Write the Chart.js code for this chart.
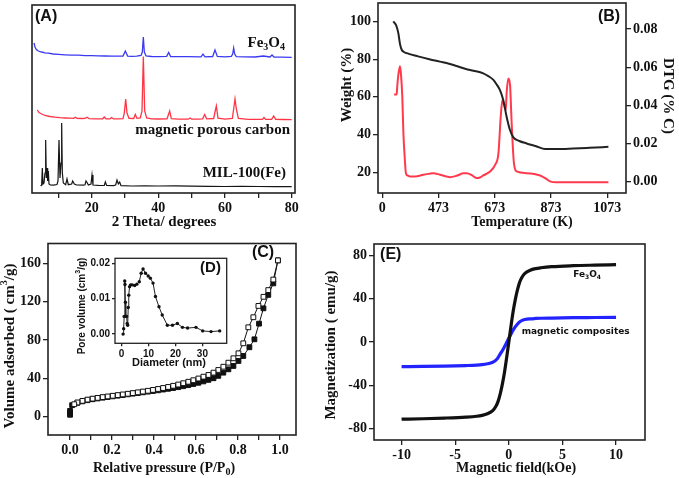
<!DOCTYPE html>
<html>
<head>
<meta charset="utf-8">
<title>Fe3O4 / magnetic porous carbon</title>
<script src="https://cdn.jsdelivr.net/npm/chart.js@4.4.1/dist/chart.umd.min.js"></script>
<style>
  html, body { margin: 0; padding: 0; background: #fff; }
  #page { position: relative; width: 679px; height: 478px; overflow: hidden; background: #fff; }
  #page canvas { position: absolute; }
</style>
</head>
<body>
<div id="page">
  <canvas id="chartA" width="340" height="232" style="left:0;top:0"></canvas>
  <canvas id="chartB" width="349" height="232" style="left:330px;top:0"></canvas>
  <canvas id="chartC" width="340" height="246" style="left:0;top:232px"></canvas>
  <canvas id="chartE" width="361" height="246" style="left:318px;top:232px"></canvas>
  <canvas id="chartD" width="160" height="120" style="left:75px;top:250px"></canvas>
</div>
<script>
(function () {
    "use strict";

    // (A) XRD, intensity is arbitrary (offset traces)
    const feTheta = [2.7, 3.0, 3.4, 4.0, 5.0, 6.0, 7.0, 8.5, 10, 12,
        14, 16, 18, 20, 22, 24, 26, 28, 29.4, 30.1,
        30.8, 32, 33.5, 34.8, 35.2, 35.5, 35.8, 36.3, 38, 40,
        42.5, 43.1, 43.7, 46, 49, 52.8, 53.4, 54.0, 56.3, 57.0,
        57.7, 60, 61.9, 62.3, 62.6, 62.9, 63.4, 66, 69, 71.5,
        73.5, 74.1, 74.7, 77, 80];
    const feInt = [150, 146, 143.5, 142, 141, 140.2, 139.8, 139, 138.6, 138.2,
        137.9, 137.8, 137.4, 137.3, 137.1, 137, 136.9, 136.8, 137, 142,
        136.9, 136.6, 136.8, 137.5, 141, 156, 141, 137, 136.5, 136.4,
        136.6, 140.5, 136.5, 136.3, 136.4, 136.2, 139, 136.2, 136.5, 143,
        136.6, 136.2, 136.6, 139, 145, 139, 136.4, 136.1, 136, 137,
        136, 138, 136, 135.8, 135.7];
    const mpcTheta = [3.7, 4.2, 5.0, 6.0, 7.5, 9, 10.5, 12, 13.5, 14.6,
        15.1, 15.6, 17, 18.0, 18.6, 19.2, 21, 23.3, 23.8, 24.3,
        25.5, 26.0, 26.5, 28, 29.4, 29.8, 30.2, 30.6, 31.2, 32.6,
        33.1, 33.6, 34.6, 35.1, 35.5, 35.9, 36.5, 38, 40, 42.6,
        43.0, 43.4, 43.9, 46, 49.0, 49.5, 50.0, 52, 53.3, 53.9,
        54.5, 56.6, 57.0, 57.4, 57.9, 60, 62.2, 62.6, 63.0, 63.4,
        64.0, 67, 71.2, 71.7, 72.2, 74.0, 74.6, 75.2, 77.5, 80];
    const mpcInt = [83, 80.5, 79, 77.5, 76.5, 75.8, 75.3, 75, 74.8, 74.7,
        75.8, 74.7, 74.5, 74.6, 75.8, 74.4, 74.2, 74.2, 76, 74.2,
        74.2, 75.5, 74.1, 74.1, 74.4, 80, 94, 80, 74.6, 74.5,
        78.5, 74.6, 75, 82, 136.5, 82, 75, 74.1, 74, 74.2,
        78, 82, 74.3, 73.8, 73.8, 75, 73.8, 73.8, 74.2, 78.5,
        74.2, 74.5, 81, 87, 74.8, 73.9, 74.5, 84, 94, 84,
        74.5, 73.7, 73.6, 75.5, 73.6, 73.6, 77, 73.6, 73.5, 73.4];
    const milTheta = [4.7, 5.0, 5.2, 5.4, 5.7, 6.0, 6.2, 6.4, 6.6, 6.8,
        7.0, 7.2, 7.6, 8.5, 9.6, 9.9, 10.2, 10.5, 10.8, 11.0,
        11.2, 11.5, 12.2, 12.6, 13.0, 14.0, 14.3, 14.8, 15.5, 17.5,
        18.0, 18.3, 18.7, 19.0, 19.8, 20.1, 20.4, 22, 23.8, 24.1,
        24.5, 26.5, 27.2, 27.6, 28.0, 28.4, 28.8, 32, 36, 40,
        45, 50, 55, 60, 65, 70, 75, 80];
    const milInt = [7, 8, 25, 9, 10, 20, 53, 15, 25, 12,
        22, 9, 8, 7.8, 8.5, 12, 53, 15, 30, 70,
        20, 10, 8.3, 14, 8.3, 9, 12, 9, 8, 7.8,
        8.2, 12, 10, 8, 9, 18, 8, 7.6, 7.5, 11,
        7.5, 7.4, 8, 13, 9, 11, 7.4, 7, 7.2, 7,
        7.1, 6.8, 6.7, 6.5, 6.6, 6.5, 6.4, 6.3];
    const aTicks = [10, 20, 30, 40, 50, 60, 70, 80];

    // (B) TG / DTG
    const tgT = [312, 322, 330, 336, 342, 350, 360, 400, 440, 478,
        510, 537, 570, 597, 632, 650, 668, 680, 691, 703,
        715, 727, 739, 760, 786, 820, 852, 893, 952, 1010, 1077];
    const tgW = [100, 98, 93.8, 88, 85, 83.8, 83.2, 81.5, 80, 78.7,
        77.6, 76.4, 74.8, 73.9, 72.5, 71, 69, 66.5, 63.7, 58.4,
        49.5, 42.4, 38.5, 36.6, 35.3, 33.8, 32.3, 32.3, 32.6, 33, 33.5];
    const dtgT = [315, 324, 326, 330, 336, 339, 344, 348, 353, 357,
        364, 371, 390, 419, 440, 454, 478, 500, 514, 530,
        549, 560, 573, 591, 609, 620, 632, 656, 674, 686,
        694, 700, 707, 712, 715, 721, 727, 733, 741, 751,
        786, 834, 852, 869, 893, 950, 1010, 1077];
    const dtgV = [0.0458, 0.0458, 0.0498, 0.056, 0.0605, 0.057, 0.045, 0.0254, 0.012, 0.0045,
        0.0032, 0.0028, 0.0028, 0.0037, 0.0042, 0.0045, 0.0037, 0.0028, 0.0024, 0.0028,
        0.0038, 0.0045, 0.0045, 0.0035, 0.0019, 0.0022, 0.0033, 0.0054, 0.0089, 0.015,
        0.034, 0.0428, 0.040, 0.0376, 0.0463, 0.0541, 0.051, 0.0306, 0.0098, 0.0054,
        0.0045, 0.0033, 0.0019, 0.0002, -0.0003, -0.0003, -0.0003, -0.0003];
    const bTicks = [273, 473, 673, 873, 1073];
    const bTickLabels = ["0", "473", "673", "873", "1073"];
    const bWeightTicks = [20, 40, 60, 80, 100];
    const bDtgTicks = [0, 0.02, 0.04, 0.06, 0.08];

    // (C) N2 sorption isotherm
    const adsP = [0, 0, 0, 0.01, 0.035, 0.059, 0.083, 0.107, 0.131, 0.155,
        0.179, 0.203, 0.227, 0.251, 0.275, 0.299, 0.323, 0.347, 0.371, 0.395,
        0.419, 0.443, 0.467, 0.491, 0.515, 0.539, 0.563, 0.587, 0.611, 0.635,
        0.659, 0.683, 0.706, 0.73, 0.754, 0.778, 0.802, 0.825, 0.854, 0.878,
        0.9, 0.921, 0.944, 0.968, 0.99];
    const adsV = [2, 4, 6, 12, 14.5, 16, 17.2, 18.2, 19, 19.8,
        20.5, 21.2, 21.9, 22.6, 23.3, 24, 24.7, 25.4, 26.1, 26.8,
        27.5, 28.3, 29.1, 29.9, 30.8, 31.8, 32.9, 34.1, 35.4, 36.8,
        38.4, 40.1, 42.6, 45.9, 49.4, 52.9, 58.1, 63.3, 72.4, 80.7,
        97, 113, 127, 139, 163];
    const desP = [0.99, 0.968, 0.944, 0.921, 0.897, 0.873, 0.849, 0.825, 0.802, 0.778,
        0.754, 0.73, 0.706, 0.683, 0.659, 0.635, 0.611, 0.587, 0.563, 0.539,
        0.515, 0.491, 0.467, 0.443, 0.419, 0.395, 0.371, 0.347, 0.323, 0.299,
        0.275, 0.251, 0.227, 0.203, 0.179, 0.155, 0.131, 0.107, 0.083, 0.059,
        0.035, 0.02];
    const desV = [163, 143, 132, 125, 115.5, 103.7, 93.2, 76.5, 66.1, 60.9,
        56.3, 52.1, 48.7, 45.9, 43.5, 41.7, 39.8, 38, 36.4, 34.9,
        33.5, 32.2, 31, 29.9, 28.9, 27.9, 27, 26.2, 25.4, 24.6,
        23.9, 23.2, 22.5, 21.8, 21.1, 20.4, 19.6, 18.8, 17.8, 16.5,
        14.8, 13];
    const cTicksX = [0, 0.1, 0.2, 0.3, 0.4, 0.5, 0.6, 0.7, 0.8, 0.9, 1.0];
    const cTicksY = [0, 40, 80, 120, 160];

    // (D) pore size distribution (inset)
    const poreD = [0.6, 0.8, 1.0, 1.2, 1.3, 1.45, 1.6, 1.9, 2.1, 2.3,
        2.5, 2.7, 3.0, 3.4, 4.0, 4.9, 5.7, 6.6, 7.3, 8.0,
        8.9, 9.9, 10.7, 11.7, 12.6, 13.9, 15.1, 17.0, 18.9, 20.7,
        22.6, 24.5, 27.6, 30.1, 33.2, 36.4];
    const poreV = [0.000, 0.0015, 0.0050, 0.0150, 0.0140, 0.0090, 0.0050, 0.0050, 0.0030, 0.0025,
        0.0075, 0.011, 0.0134, 0.0139, 0.0139, 0.0137, 0.0141, 0.0148, 0.0172, 0.0184,
        0.0172, 0.0164, 0.0158, 0.0144, 0.0106, 0.0077, 0.0054, 0.0025, 0.0025, 0.003,
        0.0019, 0.0017, 0.0019, 0.0009, 0.0007, 0.0009];
    const dTicksX = [0, 10, 20, 30];
    const dTicksY = [0, 0.01, 0.02];

    // (E) magnetization curves
    const fieldH = [-10, -8, -6, -4, -3, -2.5, -2, -1.5, -1.2, -1.0,
        -0.8, -0.6, -0.4, -0.2, 0, 0.2, 0.4, 0.6, 0.8, 1.0,
        1.2, 1.5, 2, 2.5, 3, 4, 6, 8, 10];
    const magFe3O4 = [-71.5, -71.1, -70.5, -69.6, -68.8, -68, -66.5, -63.5, -59.5, -55,
        -48, -39, -28, -14.5, 0, 14.5, 28, 39, 48, 55,
        59.5, 63.5, 66.5, 68, 68.8, 69.8, 70.7, 71.2, 71.6];
    const magComposite = [-22.8, -22.6, -22.3, -21.8, -21.4, -21, -20.2, -18.7, -16.8, -14.5,
        -11, -8, -4.5, -0.5, 3.4, 7.2, 11, 14, 16.5, 18.5,
        19.8, 20.8, 21.5, 21.8, 22, 22.2, 22.5, 22.7, 22.9];
    const eTicksX = [-10, -5, 0, 5, 10];
    const eTicksY = [-80, -40, 0, 40, 80];

    const serif = "'Liberation Serif', 'Times New Roman', serif";
    const sans = "'Liberation Sans', Arial, sans-serif";
    const tickFont = { family: serif, weight: "bold", size: 14 };
    const smallFont = { family: sans, weight: "bold", size: 10 };
    const FE3O4 = [["Fe", ""], ["3", "sub"], ["O", ""], ["4", "sub"]];

    function pairs(xs, ys) {
        return xs.map(function (x, i) { return { x: x, y: ys[i] }; });
    }

    function fixBox(size) {
        return function (scale) {
            if (scale.isHorizontal()) scale.height = size; else scale.width = size;
            scale.paddingTop = 0; scale.paddingBottom = 0;
            scale.paddingLeft = 0; scale.paddingRight = 0;
        };
    }

    function axis(pos, min, max, values, label, box, font, tickLen) {
        return {
            type: "linear", position: pos, min: min, max: max, bounds: "data",
            afterBuildTicks: function (scale) {
                scale.ticks = values.map(function (v) { return { value: v }; });
            },
            afterFit: fixBox(box),
            ticks: { callback: label, font: font || tickFont, color: "#111", padding: 2, maxRotation: 0, autoSkip: false },
            grid: { drawOnChartArea: false, drawTicks: true, tickLength: tickLen || 5, color: "#222", lineWidth: 1.3 },
            border: { display: false }
        };
    }

    function drawText(ctx, it, px, py) {
        const segs = typeof it.text === "string" ? [[it.text, ""]] : it.text;
        const fontOf = function (kind) {
            return "bold " + (kind ? Math.round(it.size * 0.68) : it.size) + "px " + it.font;
        };
        let total = 0;
        segs.forEach(function (s) { ctx.font = fontOf(s[1]); total += ctx.measureText(s[0]).width; });
        ctx.save();
        ctx.translate(px, py);
        if (it.rot) ctx.rotate(it.rot * Math.PI / 180);
        let x = it.align === "right" ? -total : it.align === "left" ? 0 : -total / 2;
        ctx.textAlign = "left";
        ctx.textBaseline = "middle";
        ctx.fillStyle = it.color || "#111";
        segs.forEach(function (s) {
            ctx.font = fontOf(s[1]);
            const dy = s[1] === "sub" ? it.size * 0.3 : s[1] === "sup" ? -it.size * 0.35 : 0;
            ctx.fillText(s[0], x, dy);
            x += ctx.measureText(s[0]).width;
        });
        ctx.restore();
    }

    // frame box round the plot area + panel texts
    function notes(items, frameWidth) {
        return {
            id: "notes",
            afterDraw: function (chart) {
                const ctx = chart.ctx, a = chart.chartArea;
                ctx.save();
                ctx.strokeStyle = "#222";
                ctx.lineWidth = frameWidth;
                ctx.strokeRect(a.left, a.top, a.right - a.left, a.bottom - a.top);
                items.forEach(function (it) {
                    let px = it.px, py = it.py;
                    if (px === undefined) {
                        px = chart.scales[it.xs || "x"].getPixelForValue(it.x);
                        py = chart.scales[it.ys || "y"].getPixelForValue(it.y);
                    }
                    drawText(ctx, it, px, py);
                });
                ctx.restore();
            }
        };
    }

    function line(xs, ys, color, width, extra) {
        return Object.assign({
            data: pairs(xs, ys), borderColor: color, backgroundColor: color,
            borderWidth: width, pointRadius: 0, fill: false, tension: 0
        }, extra || {});
    }

    function build(id, datasets, scales, padding, items, frameWidth) {
        return new Chart(document.getElementById(id).getContext("2d"), {
            type: "line",
            data: { datasets: datasets },
            options: {
                responsive: false,
                animation: false,
                events: [],
                layout: { padding: padding },
                plugins: { legend: { display: false }, tooltip: { enabled: false } },
                scales: scales
            },
            plugins: [notes(items, frameWidth)]
        });
    }

    // A
    build("chartA", [
        line(feTheta, feInt, "#3a3af2", 1.3),
        line(mpcTheta, mpcInt, "#ff3445", 1.3),
        line(milTheta, milInt, "#151515", 1.2)
    ], {
        x: axis("bottom", 2.1, 81, aTicks, function (v) { return v % 20 === 0 ? String(v) : ""; }, 39),
        y: { type: "linear", display: false, min: 0, max: 188 }
    }, { left: 32, top: 5, right: 45, bottom: 0 }, [
        { text: "(A)", x: 3.0, y: 176, font: sans, size: 16, align: "left" },
        { text: FE3O4, x: 78, y: 150, font: serif, size: 15, align: "right" },
        { text: "magnetic porous carbon", x: 79.5, y: 63, font: serif, size: 15, align: "right" },
        { text: "MIL-100(Fe)", x: 78.3, y: 20, font: serif, size: 15, align: "right" },
        { text: "2 Theta/ degrees", px: 164, py: 222, font: serif, size: 15 }
    ], 1.6);

    // B
    build("chartB", [
        line(tgT, tgW, "#222", 2, { yAxisID: "y", cubicInterpolationMode: "monotone" }),
        line(dtgT, dtgV, "#ff3a4c", 2, { yAxisID: "y1", cubicInterpolationMode: "monotone" })
    ], {
        x: axis("bottom", 257.7, 1139.5, bTicks, function (v, i) { return bTickLabels[i]; }, 39),
        y: axis("left", 9, 109.8, bWeightTicks, function (v) { return String(v); }, 48),
        y1: axis("right", -0.0059, 0.0937, bDtgTicks, function (v) { return v.toFixed(2); }, 53)
    }, { left: 0, top: 3, right: 0, bottom: 0 }, [
        { text: "(B)", x: 1079, y: 102.7, font: sans, size: 16 },
        { text: "Temperature (K)", px: 192, py: 222, font: serif, size: 14 },
        { text: "Weight (%)", px: 17, py: 85, rot: -90, font: serif, size: 15 },
        { text: "DTG (% C)", px: 338, py: 96, rot: 90, font: serif, size: 15 }
    ], 1.6);

    // C
    build("chartC", [
        line(desP, desV, "#111", 1, {
            pointStyle: "rect", pointRadius: 3.4, pointBackgroundColor: "#fff",
            pointBorderColor: "#111", pointBorderWidth: 1
        }),
        line(adsP, adsV, "#111", 1, {
            pointStyle: "rect", pointRadius: 3.4, pointBackgroundColor: "#111",
            pointBorderColor: "#111", pointBorderWidth: 1
        })
    ], {
        x: axis("bottom", -0.105, 1.076, cTicksX, function (v) {
            return Math.round(v * 10) % 2 === 0 ? v.toFixed(1) : "";
        }, 43),
        y: axis("left", -19.1, 180.6, cTicksY, function (v) { return String(v); }, 48)
    }, { left: 0, top: 11.5, right: 44, bottom: 0 }, [
        { text: "(C)", x: 0.919, y: 170.7, font: sans, size: 16 },
        { text: [["Relative pressure (P/P", ""], ["0", "sub"], [")", ""]], px: 164, py: 236, font: serif, size: 14 },
        { text: [["Volume adsorbed ( cm", ""], ["3", "sup"], ["/g)", ""]], px: 10, py: 114, rot: -90, font: serif, size: 15 }
    ], 1.6);

    // D (inset)
    build("chartD", [
        line(poreD, poreV, "#222", 1, { pointRadius: 1.7, pointBackgroundColor: "#111", pointBorderWidth: 0 })
    ], {
        x: axis("bottom", -2.4, 39, dTicksX, function (v) { return String(v); }, 26.7, smallFont, 3),
        y: axis("left", -0.0026, 0.0214, dTicksY, function (v) { return v.toFixed(2); }, 40, smallFont, 3)
    }, { left: 0, top: 8.3, right: 8.3, bottom: 0 }, [
        { text: "(D)", x: 33, y: 0.0187, font: sans, size: 15 },
        { text: "Diameter (nm)", px: 94, py: 113, font: sans, size: 11 },
        { text: [["Pore volume (cm", ""], ["3", "sup"], ["/g)", ""]], px: 7, py: 56, rot: -90, font: sans, size: 10 }
    ], 1.3);

    // E
    build("chartE", [
        line(fieldH, magFe3O4, "#111", 3.2, { cubicInterpolationMode: "monotone" }),
        line(fieldH, magComposite, "#2323ff", 3.2, { cubicInterpolationMode: "monotone" })
    ], {
        x: axis("bottom", -12.57, 12.7, eTicksX, function (v) { return String(v); }, 38),
        y: axis("left", -90.8, 90.8, eTicksY, function (v) { return String(v); }, 56)
    }, { left: 0, top: 12, right: 34, bottom: 0 }, [
        { text: "(E)", x: -12.0, y: 81, font: sans, size: 16, align: "left" },
        { text: FE3O4, x: 7.3, y: 62.4, font: "'DejaVu Sans', sans-serif", size: 9 },
        { text: "magnetic composites", x: 1.2, y: 9.5, font: "'DejaVu Sans', sans-serif", size: 9, align: "left" },
        { text: "Magnetic field(kOe)", px: 198, py: 236, font: serif, size: 14 },
        { text: "Magnetization ( emu/g)", px: 13, py: 113, rot: -90, font: serif, size: 15 }
    ], 1.6);
})();
</script>
</body>
</html>
